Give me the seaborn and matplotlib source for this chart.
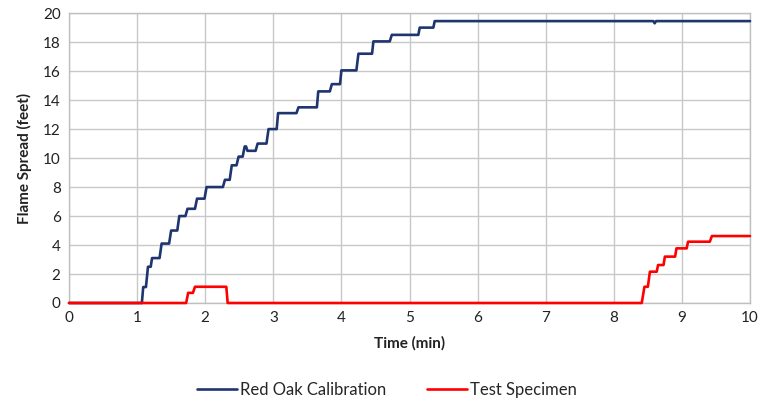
import numpy as np
import pandas as pd
import seaborn as sns
import matplotlib.pyplot as plt

# corner points of the stepped traces (time in min, flame spread in feet)
oak_time = [0, 1.07, 1.09, 1.13, 1.16, 1.20, 1.22, 1.33, 1.36, 1.47, 1.50, 1.59,
            1.62, 1.71, 1.74, 1.85, 1.88, 1.99, 2.02, 2.26, 2.29, 2.36, 2.39,
            2.46, 2.49, 2.55, 2.58, 2.60, 2.62, 2.74, 2.77, 2.90, 2.93, 3.05,
            3.07, 3.34, 3.37, 3.64, 3.66, 3.83, 3.86, 3.98, 4.00, 4.22, 4.25,
            4.45, 4.47, 4.71, 4.74, 5.13, 5.15, 5.35, 5.37, 8.58, 8.60, 8.62, 10]
oak_feet = [0, 0, 1.1, 1.1, 2.5, 2.5, 3.1, 3.1, 4.1, 4.1, 5.0, 5.0,
            6.0, 6.0, 6.5, 6.5, 7.2, 7.2, 8.0, 8.0, 8.5, 8.5, 9.5,
            9.5, 10.1, 10.1, 10.8, 10.8, 10.5, 10.5, 11.0, 11.0, 12.0, 12.0,
            13.1, 13.1, 13.5, 13.5, 14.6, 14.6, 15.1, 15.1, 16.05, 16.05, 17.2,
            17.2, 18.05, 18.05, 18.5, 18.5, 19.0, 19.0, 19.45, 19.45, 19.3, 19.45, 19.45]

spec_time = [0, 1.72, 1.75, 1.82, 1.85, 2.31, 2.33, 8.41, 8.45, 8.50, 8.53,
             8.63, 8.65, 8.73, 8.75, 8.90, 8.92, 9.07, 9.09, 9.41, 9.44, 10]
spec_feet = [0, 0, 0.7, 0.7, 1.12, 1.12, 0, 0, 1.12, 1.12, 2.16,
             2.16, 2.62, 2.62, 3.2, 3.2, 3.77, 3.77, 4.23, 4.23, 4.62, 4.62]

x_ticks = list(range(0, 11))
y_ticks = list(range(0, 21, 2))

df = pd.concat([
    pd.DataFrame({'Time': oak_time, 'Feet': oak_feet, 'Series': 'Red Oak Calibration'}),
    pd.DataFrame({'Time': spec_time, 'Feet': spec_feet, 'Series': 'Test Specimen'}),
])

sns.set_style('white')
plt.rcParams['font.family'] = ['Lato', 'DejaVu Sans']

fig = plt.figure(figsize=(7.64, 3.98), dpi=100)
ax = fig.add_axes([0.0903, 0.2387, 0.8914, 0.7283])

sns.lineplot(data=df, x='Time', y='Feet', hue='Series', sort=False,
             palette={'Red Oak Calibration': '#1f3570', 'Test Specimen': '#ff0000'},
             linewidth=1.9, ax=ax, clip_on=False, zorder=3)

ax.set_xlim(0, 10)
ax.set_ylim(0, 20)
ax.set_xticks(x_ticks)
ax.set_yticks(y_ticks)
ax.tick_params(labelsize=11, length=0, pad=6, colors='#222222')
ax.grid(True, color='#c8c8c8', linewidth=1.0)
for s in ax.spines.values():
    s.set_color('#c0c0c0')
    s.set_linewidth(1.0)

ax.set_xlabel('Time (min)', fontsize=11, fontweight='bold', color='#222222', labelpad=8)
ax.set_ylabel('Flame Spread (feet)', fontsize=11, fontweight='bold', color='#222222', labelpad=8)

ax.legend(loc='upper center', bbox_to_anchor=(0.467, -0.22), ncol=2, frameon=False,
          fontsize=12, handlelength=2.4, columnspacing=2.4, handletextpad=0.2)

fig.savefig('out.png', dpi=100)
